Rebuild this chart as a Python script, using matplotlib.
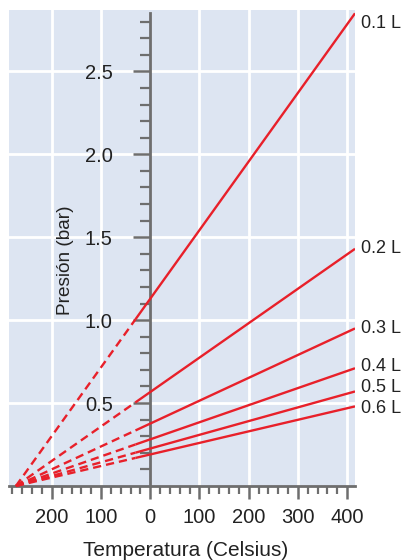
import numpy as np
import matplotlib
matplotlib.use("Agg")
import matplotlib.pyplot as plt
from matplotlib.ticker import FixedLocator

plt.rcParams['font.family'] = ['Liberation Sans', 'DejaVu Sans']

volumes = ["0.1 L", "0.2 L", "0.3 L", "0.4 L", "0.5 L", "0.6 L"]
p_end = [2.85, 1.43, 0.95, 0.71, 0.57, 0.48]   # presión al final (bar)
t_zero = -273      # cero absoluto
t_break = -30      # fin del tramo discontinuo
t_end = 416
major_x = [-200, -100, 0, 100, 200, 300, 400]
x_labels = ["200", "100", "0", "100", "200", "300", "400"]
major_y = [0.5, 1.0, 1.5, 2.0, 2.5]

red = "#e8202a"
gray = "#6e6e6e"
bg = "#dde5f2"

fig = plt.figure(figsize=(4.08, 5.6), dpi=100)
W, H = 408, 560
ax = fig.add_axes([9 / W, 1 - 486 / H, (355 - 9) / W, (486 - 10) / H])
ax.set_facecolor(bg)
ax.set_xlim(-287, t_end)
ax.set_ylim(0, 2.87)

for v in major_x:
    if v != 0:
        ax.axvline(v, color="white", lw=2, zorder=0)
for v in major_y:
    ax.axhline(v, color="white", lw=2, zorder=0)

for p in p_end:
    slope = p / (t_end - t_zero)
    p_break = slope * (t_break - t_zero)
    ax.plot([t_zero, t_break], [0, p_break], color=red, lw=1.7,
            dashes=(3.5, 2.1), zorder=3, clip_on=False)
    ax.plot([t_break, t_end], [p_break, p], color=red, lw=1.7,
            zorder=3, solid_capstyle="butt")

# etiquetas de volumen, separadas lo justo para no pisarse
label_y = []
prev = None
for p in reversed(p_end):
    y = min(p, 2.79)
    if prev is None:
        y -= 0.012
    elif y - prev < 0.125:
        y = prev + 0.125
    label_y.append(y)
    prev = y
label_y = label_y[::-1]

for name, y in zip(volumes, label_y):
    ax.text(t_end + 13, y, name, fontsize=13, color="#222222",
            va="center", ha="left", clip_on=False)

# ejes
for s in ["top", "right"]:
    ax.spines[s].set_visible(False)
ax.spines["left"].set_position(("data", 0))
ax.spines["left"].set_bounds(0, 2.85)
ax.spines["left"].set_color(gray)
ax.spines["left"].set_linewidth(2)
ax.spines["bottom"].set_color(gray)
ax.spines["bottom"].set_linewidth(2)

ax.xaxis.set_major_locator(FixedLocator(major_x))
ax.set_xticklabels(x_labels)
ax.xaxis.set_minor_locator(FixedLocator(np.arange(-280, 401, 20)))
ax.yaxis.set_major_locator(FixedLocator(major_y))
ax.yaxis.set_minor_locator(FixedLocator(np.arange(0.1, 2.81, 0.1)))

ax.tick_params(axis="x", which="major", length=9.5, width=1.8, color=gray,
               labelsize=14.5, labelcolor="#222222", pad=6)
ax.tick_params(axis="x", which="minor", length=6, width=1.6, color=gray)
ax.tick_params(axis="y", which="major", length=12, width=1.8, color=gray,
               labelsize=14.5, labelcolor="#222222", pad=15)
ax.tick_params(axis="y", which="minor", length=7, width=1.6, color=gray)

fig.text(65 / W, 1 - 260 / H, "Presión (bar)", rotation=90, fontsize=13.7,
         color="#222222", ha="center", va="center")
fig.text(186 / W, 1 - 550 / H, "Temperatura (Celsius)", fontsize=15,
         color="#222222", ha="center", va="center")

fig.savefig("out.png", dpi=100)
